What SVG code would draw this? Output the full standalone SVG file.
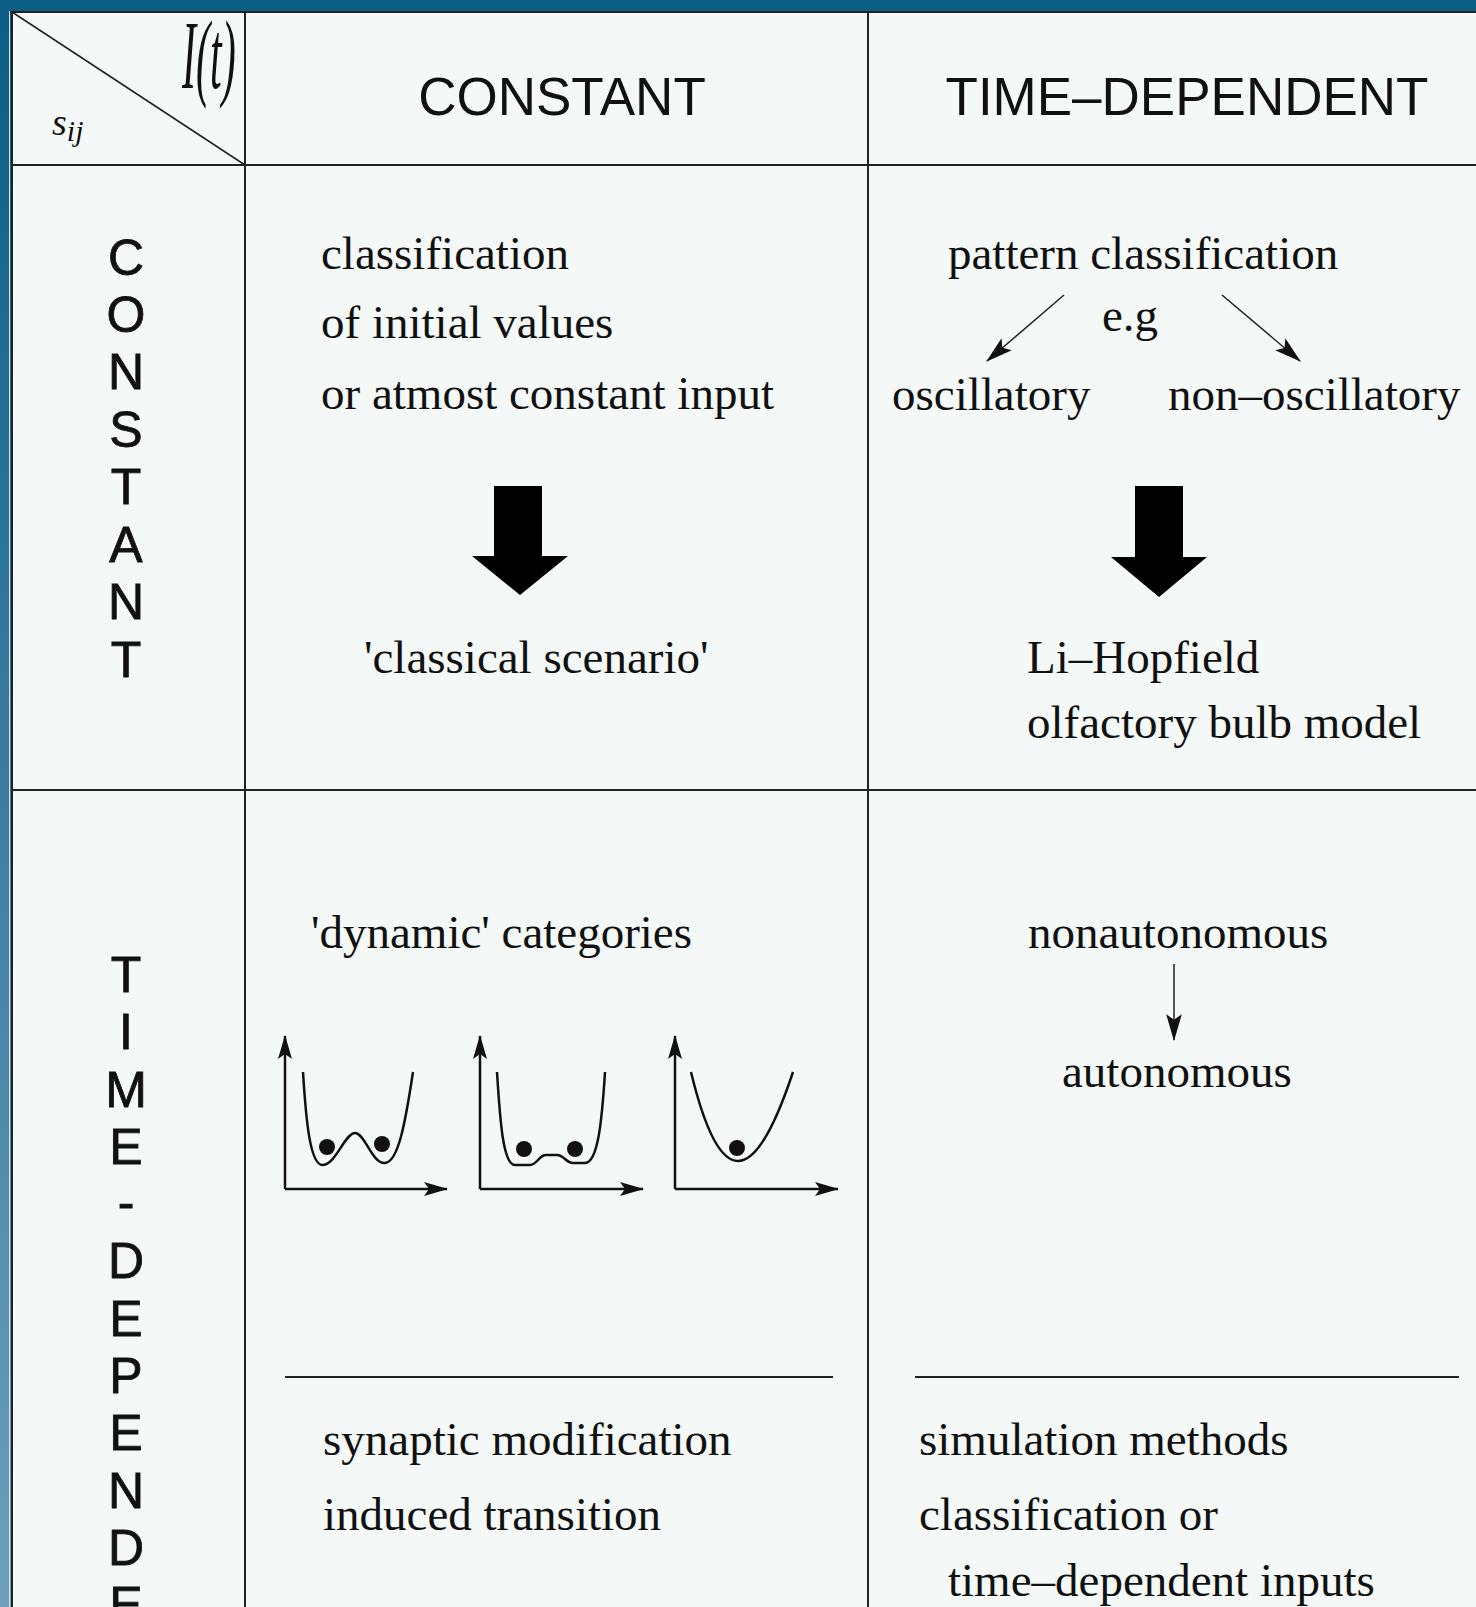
<svg xmlns="http://www.w3.org/2000/svg" width="1476" height="1607" viewBox="0 0 1476 1607">
<defs>
<linearGradient id="bg" x1="0" y1="0" x2="0" y2="1">
<stop offset="0" stop-color="#0b5d85"/>
<stop offset="1" stop-color="#6f9fba"/>
</linearGradient>
<marker id="ah" viewBox="0 0 24 16" refX="23" refY="8" markerWidth="24" markerHeight="16" markerUnits="userSpaceOnUse" orient="auto">
<path d="M0,1 L24,8 L0,15 L5,8 z" fill="#111"/>
</marker>
<marker id="ahs" viewBox="0 0 24 16" refX="23" refY="8" markerWidth="27" markerHeight="18" markerUnits="userSpaceOnUse" orient="auto">
<path d="M0,1 L24,8 L0,15 L5,8 z" fill="#111"/>
</marker>
<style>
.grid{stroke:#222;stroke-width:2;fill:none}
.thin{stroke:#222;stroke-width:1.5;fill:none}
.hd{font-family:"Liberation Sans",Arial,sans-serif;font-size:53px;fill:#111;text-anchor:middle}
.vt{font-family:"Liberation Sans",Arial,sans-serif;font-size:50px;fill:#111;text-anchor:middle;stroke:#111;stroke-width:0.8}
.tx{font-family:"Liberation Serif","Times New Roman",serif;font-size:47px;fill:#111}
.math{font-family:"Liberation Serif","Times New Roman",serif;font-style:italic;fill:#111}
.ax{stroke:#111;stroke-width:2.5;fill:none}
.cv{stroke:#111;stroke-width:2.5;fill:none}
.ball{fill:#111}
.big{fill:#000}
</style>
</defs>
<rect x="0" y="0" width="1476" height="1607" fill="url(#bg)"/>
<rect x="0" y="0" width="1476" height="11" fill="#0b5f86"/>
<rect x="11" y="11" width="1465" height="1596" fill="#f4f8f6"/>
<line x1="9.5" y1="11" x2="9.5" y2="1607" stroke="#d6e4ea" stroke-width="1"/>

<g id="grid">
<line class="grid" x1="10" y1="12" x2="1476" y2="12"/>
<line class="grid" x1="12" y1="11" x2="12" y2="1607"/>
<line class="grid" x1="245" y1="11" x2="245" y2="1607"/>
<line class="grid" x1="868" y1="11" x2="868" y2="1607"/>
<line class="grid" x1="11" y1="165" x2="1476" y2="165"/>
<line class="grid" x1="11" y1="790" x2="1476" y2="790"/>
<line class="thin" x1="12" y1="12" x2="245" y2="165"/>
</g>

<g id="corner">
<text class="math" x="182" y="37.8" font-size="42" transform="scale(1,2.33)">I(t)</text>
<text class="math" x="52" y="135" font-size="38">s<tspan font-size="30" dy="6">ij</tspan></text>
</g>

<g id="header-constant"><text class="hd" x="562" y="115">CONSTANT</text></g>
<g id="header-timedep"><text class="hd" x="1187" y="115">TIME–DEPENDENT</text></g>

<g id="row-constant">
<text class="vt" x="126" y="275">C</text>
<text class="vt" x="126" y="332">O</text>
<text class="vt" x="126" y="389">N</text>
<text class="vt" x="126" y="447">S</text>
<text class="vt" x="126" y="504">T</text>
<text class="vt" x="126" y="562">A</text>
<text class="vt" x="126" y="619">N</text>
<text class="vt" x="126" y="677">T</text>
</g>

<g id="row-timedep">
<text class="vt" x="126" y="992">T</text>
<text class="vt" x="126" y="1049">I</text>
<text class="vt" x="126" y="1107">M</text>
<text class="vt" x="126" y="1164">E</text>
<text class="vt" x="126" y="1219">-</text>
<text class="vt" x="126" y="1278">D</text>
<text class="vt" x="126" y="1336">E</text>
<text class="vt" x="126" y="1393">P</text>
<text class="vt" x="126" y="1450">E</text>
<text class="vt" x="126" y="1508">N</text>
<text class="vt" x="126" y="1565">D</text>
<text class="vt" x="126" y="1622">E</text>
</g>

<g id="cell-cc">
<text class="tx" x="321" y="269">classification</text>
<text class="tx" x="321" y="338">of initial values</text>
<text class="tx" x="321" y="409">or atmost constant input</text>
<polygon class="big" points="494,486 542,486 542,556 568,556 520,595 472,556 494,556"/>
<text class="tx" x="364" y="673">'classical scenario'</text>
</g>

<g id="cell-ct">
<text class="tx" x="948" y="269">pattern classification</text>
<text class="tx" x="1102" y="331">e.g</text>
<text class="tx" x="892" y="410">oscillatory</text>
<text class="tx" x="1168" y="410">non–oscillatory</text>
<polygon class="big" points="1135,486 1183,486 1183,557 1207,557 1159,597 1111,557 1135,557"/>
<text class="tx" x="1027" y="673">Li–Hopfield</text>
<text class="tx" x="1027" y="738">olfactory bulb model</text>
</g>

<g id="cell-tc">
<text class="tx" x="311" y="948">'dynamic' categories</text>
<line class="ax" x1="285" y1="1189" x2="285" y2="1036" marker-end="url(#ah)"/>
<line class="ax" x1="285" y1="1189" x2="447" y2="1189" marker-end="url(#ah)"/>
<path class="cv" d="M303,1072 C306,1120 310,1166 323,1165 C336,1164 345,1133 355,1133 C365,1133 372,1164 385,1163 C398,1162 405,1125 413,1072"/>
<circle class="ball" cx="327" cy="1147" r="8"/>
<circle class="ball" cx="382" cy="1144" r="8"/>
<line class="ax" x1="480" y1="1189" x2="480" y2="1036" marker-end="url(#ah)"/>
<line class="ax" x1="480" y1="1189" x2="643" y2="1189" marker-end="url(#ah)"/>
<path class="cv" d="M497,1072 C500,1120 503,1165 515,1165 L530,1165 C537,1165 539,1155 546,1155 L557,1155 C564,1155 566,1163 573,1163 L585,1163 C598,1163 602,1120 605,1072"/>
<circle class="ball" cx="524" cy="1149" r="8"/>
<circle class="ball" cx="575" cy="1149" r="8"/>
<line class="ax" x1="675" y1="1189" x2="675" y2="1036" marker-end="url(#ah)"/>
<line class="ax" x1="675" y1="1189" x2="838" y2="1189" marker-end="url(#ah)"/>
<path class="cv" d="M691,1072 Q734,1250 793,1072"/>
<circle class="ball" cx="737" cy="1148" r="8"/>
<line class="grid" x1="285" y1="1377" x2="833" y2="1377"/>
<text class="tx" x="323" y="1455">synaptic modification</text>
<text class="tx" x="323" y="1530">induced transition</text>
</g>

<g id="cell-tt">
<text class="tx" x="1028" y="948">nonautonomous</text>
<text class="tx" x="1062" y="1087">autonomous</text>
<line class="grid" x1="915" y1="1377" x2="1459" y2="1377"/>
<text class="tx" x="919" y="1455">simulation methods</text>
<text class="tx" x="919" y="1530">classification or</text>
<text class="tx" x="948" y="1596">time–dependent inputs</text>
</g>

<g id="connectors">
<line class="thin" x1="1064" y1="295" x2="987" y2="361" marker-end="url(#ahs)"/>
<line class="thin" x1="1222" y1="295" x2="1300" y2="361" marker-end="url(#ahs)"/>
<line class="thin" x1="1174" y1="964" x2="1174" y2="1040" marker-end="url(#ahs)"/>
</g>
</svg>
